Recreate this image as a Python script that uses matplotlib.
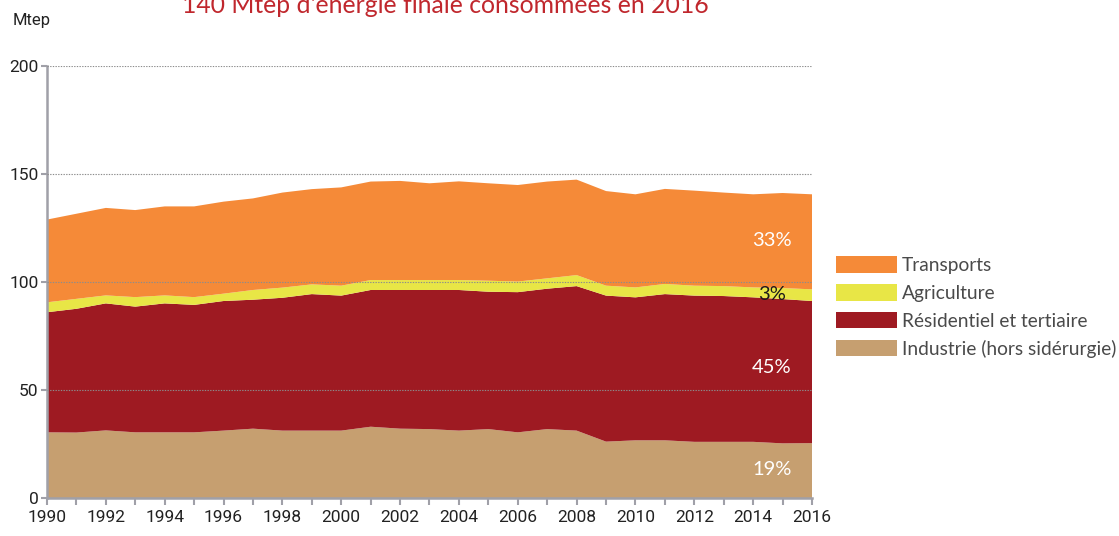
import matplotlib
matplotlib.use("Agg")
import matplotlib.pyplot as plt
from matplotlib.patches import Patch

years = list(range(1990, 2017))
industrie = [30.4, 30.3, 31.3, 30.4, 30.4, 30.4, 31.2, 32.1, 31.2, 31.2, 31.2, 33.0, 32.1, 31.9,
             31.2, 31.9, 30.4, 31.9, 31.2, 26.1, 26.7, 26.7, 26.0, 26.0, 26.0, 25.3, 25.4]
residentiel = [55.6, 57.3, 58.8, 58.2, 59.7, 59.0, 60.0, 59.7, 61.5, 63.2, 62.5, 63.3, 64.2, 64.4,
               65.1, 63.6, 64.9, 65.0, 66.9, 67.6, 66.2, 67.7, 67.7, 67.5, 66.9, 66.8, 65.8]
agriculture = [4.6, 4.6, 3.7, 4.4, 3.7, 3.6, 3.4, 4.5, 4.7, 4.5, 4.6, 4.6, 4.6, 4.6,
               4.6, 5.1, 4.9, 4.8, 5.1, 4.6, 4.6, 4.7, 4.6, 4.6, 4.6, 5.1, 5.4]
transports = [38.3, 39.4, 40.5, 40.3, 41.2, 42.0, 42.6, 42.4, 44.0, 44.1, 45.5, 45.6, 45.9, 44.8,
              45.7, 45.1, 44.7, 44.8, 44.2, 43.8, 43.1, 44.0, 44.0, 43.3, 43.1, 44.0, 44.0]

series_names = ["Industrie (hors sidérurgie)", "Résidentiel et tertiaire", "Agriculture", "Transports"]
colors = ["#C69F70", "#9E1A22", "#E8E646", "#F58A38"]
pct_labels = ["19%", "45%", "3%", "33%"]
pct_y = [13.4, 60.6, 94.4, 119.0]
pct_colors = ["white", "white", "#1a1a1a", "white"]

fig = plt.figure(figsize=(11.19, 5.36), dpi=100)
ax = fig.add_axes([47/1119, 38/536, 765/1119, 432/536])

ax.stackplot(years, industrie, residentiel, agriculture, transports,
             colors=colors, linewidth=0)

ax.set_xlim(1990, 2016)
ax.set_ylim(0, 200)
ax.set_yticks([0, 50, 100, 150, 200])
ax.set_xticks(years, minor=True)
ax.set_xticks(years[::2])
ax.set_xticklabels([str(y) for y in years[::2]], fontfamily="Roboto", fontsize=12.5, color="#222222")
ax.set_yticklabels(["0", "50", "100", "150", "200"], fontfamily="Roboto", fontsize=12.5, color="#222222")

for yv in [50, 100, 150, 200]:
    ax.axhline(yv, color="#8c8c8c", linestyle=(0, (1.2, 1.2)), linewidth=0.8, zorder=5)

for s in ["top", "right"]:
    ax.spines[s].set_visible(False)
for s in ["left", "bottom"]:
    ax.spines[s].set_color("#a0a0a8")
    ax.spines[s].set_linewidth(1.8)
ax.tick_params(axis="both", which="both", color="#a0a0a8", width=1.5, direction="out")
ax.tick_params(axis="x", which="both", length=5, pad=4)
ax.tick_params(axis="y", length=4, pad=2)

for lab, yv, c in zip(pct_labels, pct_y, pct_colors):
    ax.text(2014.64, yv, lab, ha="center", va="center", fontsize=14.5, color=c,
            fontfamily="Lato", zorder=6)

fig.text(13/1119, 1 - 20/536, "Mtep", fontfamily="Roboto", fontsize=12, color="#222222",
         ha="left", va="center")
fig.text(445/1119, 1 - 13/536, "140 Mtep d'énergie finale consommées en 2016",
         fontfamily="Lato", fontsize=17.8, color="#C0272D", ha="center", va="baseline")

handles = [Patch(facecolor=colors[i], edgecolor="none") for i in [3, 2, 1, 0]]
labels = [series_names[i] for i in [3, 2, 1, 0]]
leg = fig.legend(handles, labels, loc="center left", bbox_to_anchor=(836/1119, 1 - 307/536),
                 frameon=False, handlelength=3.2, handleheight=0.95, handletextpad=0.25,
                 labelspacing=0.52, prop={"family": "Lato", "size": 13.8},
                 labelcolor="#4a4a4a", borderaxespad=0, borderpad=0)

fig.savefig("out.png", dpi=100)
